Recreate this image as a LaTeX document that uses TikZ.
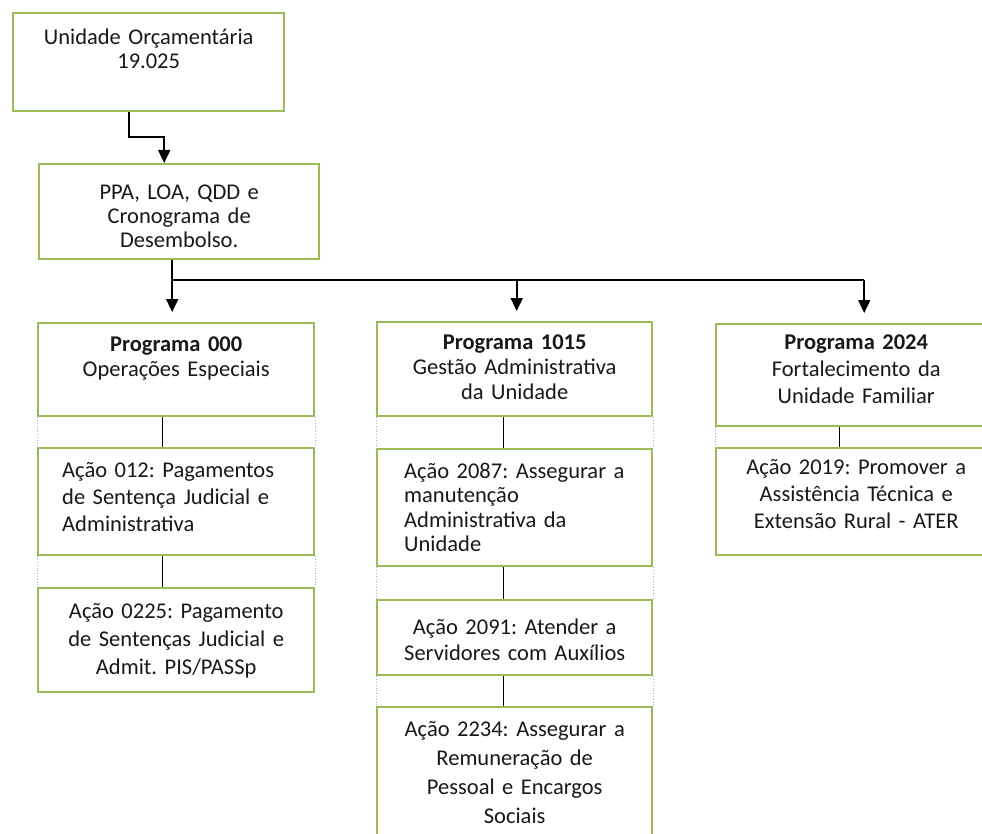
\documentclass[tikz,border=0pt]{standalone}
\usepackage{fontspec}
\setmainfont{Carlito}
\usetikzlibrary{arrows.meta}
\definecolor{verde}{RGB}{155,187,89}
\definecolor{azulclaro}{RGB}{150,180,225}
\definecolor{texto}{RGB}{25,25,25}
\frenchspacing
\tikzset{
  caixa/.style={draw=verde, line width=2.4pt, anchor=north west, inner ysep=0pt,
    inner xsep=10pt, align=center, text=texto},
  linha/.style={line width=1.8pt},
  seta/.style={line width=1.8pt, -{Triangle[width=12pt,length=13pt]}},
  liga/.style={line width=1.4pt},
  lateral/.style={azulclaro, dotted, line width=0.8pt}
}
\begin{document}
\begin{tikzpicture}[x=1pt,y=-1pt]
  \path[fill=white,use as bounding box] (0,0) rectangle (982,834);
  % topo
  \node[caixa, text width=251pt, text height=31pt, text depth=67pt,
    font=\fontsize{22.5}{24}\selectfont] at (12,12) (unid) {Unidade Orçamentária\\19.025};
  \node[caixa, text width=260pt, text height=35pt, text depth=60pt,
    font=\fontsize{22.5}{24}\selectfont] at (38,163) (ppa) {PPA, LOA, QDD e\\Cronograma de\\Desembolso.};
  % coluna 1
  \node[caixa, text width=256pt, text height=28pt, text depth=65pt,
    font=\fontsize{22.5}{25}\selectfont] at (37,322) (p000) {\textbf{Programa 000}\\Operações Especiais};
  \node[caixa, align=left, inner xsep=24pt, text width=228pt, text height=29pt, text depth=78pt,
    font=\fontsize{22.5}{27}\selectfont] at (37,447) (a012) {Ação 012: Pagamentos\\de Sentença Judicial e\\Administrativa};
  \node[caixa, text width=256pt, text height=30pt, text depth=74pt,
    font=\fontsize{22.5}{28}\selectfont] at (37,587) (a0225) {Ação 0225: Pagamento\\de Sentenças Judicial e\\Admit. PIS/PASSp};
  % coluna 2
  \node[caixa, text width=255pt, text height=27pt, text depth=67pt,
    font=\fontsize{22.5}{25}\selectfont] at (376,321) (p1015) {\textbf{Programa 1015}\\Gestão Administrativa\\da Unidade};
  \node[caixa, align=left, inner xsep=27pt, text width=221pt, text height=29pt, text depth=88pt,
    font=\fontsize{22.5}{24.5}\selectfont] at (376,448) (a2087) {Ação 2087: Assegurar a\\manutenção\\Administrativa da\\Unidade};
  \node[caixa, text width=255pt, text height=34pt, text depth=41pt,
    font=\fontsize{22.5}{26}\selectfont] at (376,599) (a2091) {Ação 2091: Atender a\\Servidores com Auxílios};
  \node[caixa, text width=255pt, text height=29pt, text depth=121pt,
    font=\fontsize{22.5}{29}\selectfont] at (376,706) (a2234) {Ação 2234: Assegurar a\\Remuneração de\\Pessoal e Encargos\\Sociais};
  % coluna 3
  \node[caixa, text width=260pt, text height=25pt, text depth=77pt,
    font=\fontsize{22.5}{27}\selectfont] at (715,323) (p2024) {\textbf{Programa 2024}\\Fortalecimento da\\Unidade Familiar};
  \node[caixa, text width=260pt, text height=26pt, text depth=81pt,
    font=\fontsize{22.5}{27}\selectfont] at (715,447) (a2019) {Ação 2019: Promover a\\Assistência Técnica e\\Extensão Rural - ATER};

  % setas
  \draw[seta] ([xshift=-19.5pt]unid.south) -- ++(0,25) -| ([xshift=-15pt]ppa.north);
  \coordinate (barra) at ([xshift=-7pt,yshift=-20pt]ppa.south);
  \draw[seta] ([xshift=-7pt]ppa.south) -- ([yshift=10pt]barra |- p000.north);
  \draw[linha] (barra) -- ([xshift=8pt]barra -| p2024.north);
  \draw[seta] ([xshift=2pt]barra -| p1015.north) -- ([xshift=2pt,yshift=10pt]p1015.north);
  \draw[seta] ([xshift=8pt]barra -| p2024.north) -- ([xshift=8pt,yshift=10pt]p2024.north);

  % ligacoes
  \draw[liga] ([xshift=-14pt]p000.south) -- ([xshift=-14pt]a012.north);
  \draw[liga] ([xshift=-14pt]a012.south) -- ([xshift=-14pt]a0225.north);
  \draw[liga] ([xshift=-11pt]p1015.south) -- ([xshift=-11pt]a2087.north);
  \draw[liga] ([xshift=-11pt]a2087.south) -- ([xshift=-11pt]a2091.north);
  \draw[liga] ([xshift=-11pt]a2091.south) -- ([xshift=-11pt]a2234.north);
  \draw[liga] ([xshift=-17pt]p2024.south) -- ([xshift=-17pt]a2019.north);
  \foreach \a/\b in {p000/a012, a012/a0225, p1015/a2087, a2087/a2091, a2091/a2234, p2024/a2019}{
    \draw[lateral] (\a.south west) -- (\b.north west);
    \draw[lateral] (\a.south east) -- (\b.north east);
  }
\end{tikzpicture}
\end{document}
